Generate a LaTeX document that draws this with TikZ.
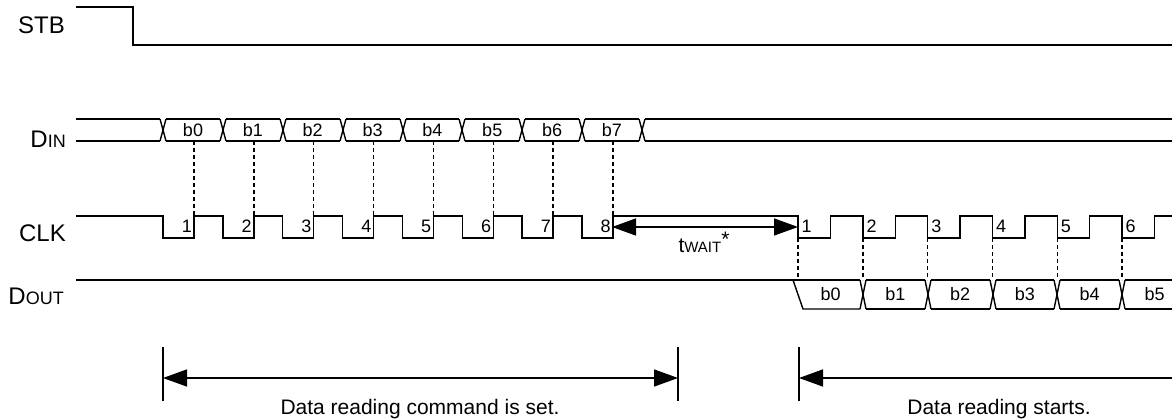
\documentclass[tikz,border=0pt]{standalone}
\usepackage{fontspec}
\setmainfont{Liberation Sans}
\usetikzlibrary{arrows.meta}
\tikzset{
  wave/.style={line width=1.4pt},
  guide/.style={line width=1.4pt, dash pattern=on 4pt off 3pt},
  siglabel/.style={anchor=base east, inner sep=0pt, font=\fontsize{24}{24}\selectfont},
  bitlabel/.style={anchor=base, inner sep=0pt, font=\fontsize{18}{18}\selectfont},
  numlabel/.style={inner sep=0pt, font=\fontsize{18}{18}\selectfont},
  notelabel/.style={anchor=base, inner sep=0pt, font=\fontsize{21}{21}\selectfont},
  bigtip/.style={line width=1.4pt, {Triangle[length=24pt,width=17pt]}-{Triangle[length=24pt,width=17pt]}},
  lefttip/.style={line width=1.4pt, {Triangle[length=24pt,width=17pt]}-}
}
\newcommand{\smallcap}[1]{{\fontsize{18}{18}\selectfont #1}}
\begin{document}
\begin{tikzpicture}[x=1pt,y=-1pt]
  \useasboundingbox (0,0) rectangle (1174,419);

  % Signal names
  \node[siglabel] (stb) at (65,34) {STB};
  \node[siglabel] (din) at (66,147.5) {D\smallcap{IN}};
  \node[siglabel] (clk) at (66,241.5) {CLK};
  \node[siglabel] (dout) at (64,305) {D\smallcap{OUT}};

  % Drawing STB
  \draw[wave] (76,7) -- (133,7) -- (133,45) -- (1172,45);

  % Drawing DIN bus
  \foreach \a/\b in {73/163,163/223,223/283,283/343,343/403,403/462,462/522,522/582,582/642,642/1175}{
    \draw[wave] (\a+3,119) -- (\b-3,119);
    \draw[wave] (\a+3,141) -- (\b-3,141);
  }
  \foreach \x in {163,223,283,343,403,462,522,582,642}{
    \draw[wave] (\x-3,119) -- (\x+3,141);
    \draw[wave] (\x-3,141) -- (\x+3,119);
  }
  \foreach \n in {0,...,7}
    \node[bitlabel] (din\n) at ({193+59.85*\n},136.5) {b\n};

  % Drawing CLK
  \draw[wave] (76,216)
    \foreach \k in {0,...,7}{ -- ({163+59.85*\k},216) -- ++(0,22) -- ({194+59.85*\k},238) -- ++(0,-22) }
    \foreach \k in {0,...,5}{ -- ({798+64.8*\k},216) -- ++(0,22) -- ({830.5+64.8*\k},238) -- ++(0,-22) }
    -- (1172,216);
  \foreach \n in {1,...,8}
    \node[numlabel, anchor=base east] (clka\n) at ({192+59.85*(\n-1)},233) {\n};
  \foreach \n in {1,...,6}
    \node[numlabel, anchor=base west] (clkb\n) at ({801.5+64.8*(\n-1)},233) {\n};

  % Marking sampling edges
  \foreach \k in {0,...,7}
    \draw[guide] ({194+59.85*\k},141) -- ({194+59.85*\k},216);
  \foreach \k in {0,...,5}
    \draw[guide] ({798+64.8*\k},238) -- ({798+64.8*\k},280);

  % Drawing DOUT bus
  \draw[wave] (76,280) -- (860,280);
  \draw[wave] (793,280) -- (803,309) -- (860,309);
  \foreach \a/\b in {863/928,928/993,993/1057,1057/1122,1122/1175}{
    \draw[wave] (\a+3,280) -- (\b-3,280);
    \draw[wave] (\a+3,309) -- (\b-3,309);
  }
  \foreach \x in {863,928,993,1057,1122}{
    \draw[wave] (\x-3,280) -- (\x+3,309);
    \draw[wave] (\x-3,309) -- (\x+3,280);
  }
  \foreach \n in {0,...,5}
    \node[bitlabel] (dout\n) at ({830.5+64.8*\n},300.5) {b\n};

  % Marking t_WAIT
  \coordinate (wfrom) at (612,227);
  \coordinate (wto) at (798,227);
  \draw[bigtip] (wfrom) -- (wto);
  \node[anchor=base, inner sep=0pt] (twait) at (704,253)
    {\fontsize{21}{21}\selectfont t\smallcap{\fontsize{15}{15}\selectfont WAIT}\raisebox{6pt}{*}};

  % Marking the two phases
  \foreach \x/\nm in {163/ca,678/cb,799/sa}{
    \coordinate (\nm) at (\x,378);
    \draw[wave] (\x,347) -- (\x,401);
  }
  \coordinate (send) at (1172,378);
  \draw[bigtip] (ca) -- (cb);
  \draw[lefttip] (sa) -- (send);
  \node[notelabel] (cmdset) at (420,414) {Data reading command is set.};
  \node[notelabel] (rdstart) at (999,414) {Data reading starts.};
\end{tikzpicture}
\end{document}
